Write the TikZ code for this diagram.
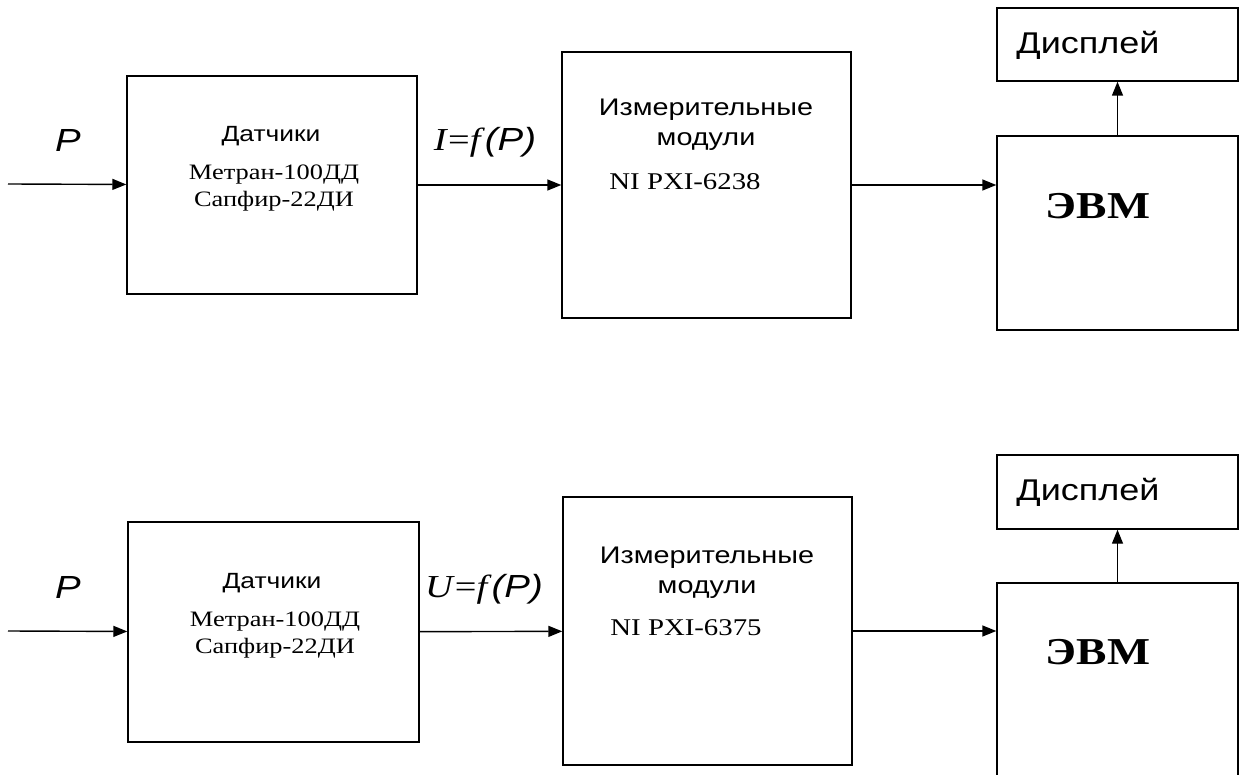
\documentclass[tikz,border=0pt]{standalone}
\usepackage{fontspec}
\setmainfont{Liberation Serif}[FakeStretch=1.2]
\setsansfont{Liberation Sans}[FakeStretch=1.2]
\usetikzlibrary{arrows.meta}

\begin{document}
\begin{tikzpicture}
[
x=1pt, y=-1pt,
every node/.style={inner sep=0pt},
blk/.style={draw, line width=1.4pt},
sig/.style={line width=1.4pt, -{Triangle[length=14pt,width=11pt]}},
sensname/.style={font=\sffamily\fontsize{22}{26}\selectfont},
model/.style={font=\fontsize{22}{26}\selectfont},
measname/.style={font=\sffamily\fontsize{24}{28}\selectfont},
pxi/.style={font=\fontsize{24}{28}\selectfont},
evm/.style={font=\bfseries\fontsize{38}{42}\selectfont},
disp/.style={font=\sffamily\fontsize{30}{34}\selectfont},
var/.style={font=\sffamily\itshape\fontsize{32}{36}\selectfont},
func/.style={font=\fontsize{32}{36}\selectfont}
]
\useasboundingbox (0,0) rectangle (1241,775);
\clip (0,0) rectangle (1241,775);

% upper chain
\coordinate (in1) at (8,184);
\node[blk, minimum width=290pt, minimum height=218pt] (sens1) at (272,185) {};
\node[blk, minimum width=289pt, minimum height=266pt] (meas1) at (706.5,185) {};
\node[blk, minimum width=241pt, minimum height=194pt] (evm1) at (1117.5,233) {};
\node[blk, minimum width=241pt, minimum height=73pt] (disp1) at (1117.5,44.5) {};

\node[var] (p1) at (68,140) {P};
\node[sensname] (sensT1) at (271,136) {Датчики};
\node[model] (sensA1) at (274,175) {Метран-100ДД};
\node[model] (sensB1) at (274,201) {Сапфир-22ДИ};
\node[func] (f1) at (485,142) {\textit{I}=\textit{f}{\sffamily\itshape(P)}};
\node[measname] (measT1) at (706,110) {Измерительные};
\node[measname] (measU1) at (706,142) {модули};
\node[pxi] (pxi1) at (685,182) {NI PXI-6238};
\node[evm] (evmT1) at (1098,206) {ЭВМ};
\node[disp] (dispT1) at (1088,45) {Дисплей};

\draw[sig] (in1) -- (sens1);
\draw[sig] (sens1) -- (meas1);
\draw[sig] (meas1.east) -- (evm1.west |- meas1.east);
\draw[sig] (evm1) -- (disp1);

% lower chain
\coordinate (in2) at (8,631);
\node[blk, minimum width=291pt, minimum height=220pt] (sens2) at (273.5,632) {};
\node[blk, minimum width=289pt, minimum height=268pt] (meas2) at (707.5,631) {};
\node[blk, minimum width=241pt, minimum height=194pt] (evm2) at (1117.5,680) {};
\node[blk, minimum width=241pt, minimum height=74pt] (disp2) at (1117.5,492) {};

\node[var] (p2) at (68,587) {P};
\node[sensname] (sensT2) at (272,583) {Датчики};
\node[model] (sensA2) at (275,622) {Метран-100ДД};
\node[model] (sensB2) at (275,648) {Сапфир-22ДИ};
\node[func] (f2) at (484,589) {\textit{U}=\textit{f}{\sffamily\itshape(P)}};
\node[measname] (measT2) at (707,558) {Измерительные};
\node[measname] (measU2) at (707,590) {модули};
\node[pxi] (pxi2) at (686,628) {NI PXI-6375};
\node[evm] (evmT2) at (1098,652) {ЭВМ};
\node[disp] (dispT2) at (1088,492) {Дисплей};

\draw[sig] (in2) -- (sens2);
\draw[sig] (sens2) -- (meas2);
\draw[sig] (meas2.east) -- (evm2.west |- meas2.east);
\draw[sig] (evm2) -- (disp2);
\end{tikzpicture}
\end{document}
